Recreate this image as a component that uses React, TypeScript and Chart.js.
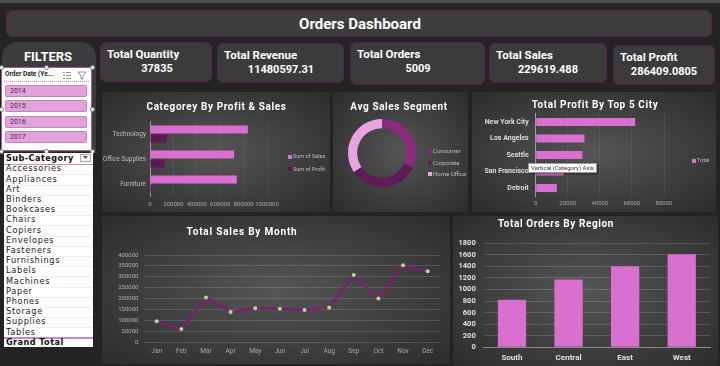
import React, { useEffect, useRef } from "react";
import { Chart, registerables } from "chart.js";
Chart.register(...registerables);

// ---------- DATA ----------
const categoryLabels = ["Technology", "Office Supplies", "Furniture"];
const categorySales = [836154, 719047, 741999];
const categoryProfit = [145455, 122491, 18451];
const categorySeries = ["Sum of Sales", "Sum of Profit"];
const categoryTicks = [0, 200000, 400000, 600000, 800000, 1000000];

const segmentLabels = ["Consumer", "Corporate", "Home Office"];
const segmentAvgSales = [223.73, 233.82, 240.97];

const cityLabels = ["New York City", "Los Angeles", "Seattle", "San Francisco", "Detroit"];
const cityProfit = [62037, 30441, 29156, 17507, 13181];
const citySeries = ["Total"];

const monthLabels = ["Jan", "Feb", "Mar", "Apr", "May", "Jun", "Jul", "Aug", "Sep", "Oct", "Nov", "Dec"];
const monthSales = [94925, 59751, 205005, 137762, 155029, 152718, 147238, 159044, 307650, 200323, 352461, 325294];

const regionLabels = ["South", "Central", "East", "West"];
const regionOrders = [822, 1175, 1401, 1611];

const yearLabels = ["2014", "2015", "2016", "2017"];
const subCategories = ["Accessories", "Appliances", "Art", "Binders", "Bookcases", "Chairs", "Copiers", "Envelopes", "Fasteners", "Furnishings", "Labels", "Machines", "Paper", "Phones", "Storage", "Supplies", "Tables"];

const kpiLabels = ["Total Quantity", "Total Revenue", "Total Orders", "Total Sales", "Total Profit"];
const kpiValues = ["37835", "11480597.31", "5009", "229619.488", "286409.0805"];

const dashboardTitle = "Orders Dashboard";
const chartTitles = ["Categorey By Profit & Sales", "Avg Sales Segment", "Total Profit By Top 5 City", "Total Sales By Month", "Total Orders By Region"];

// ---------- STYLE ----------
const PINK = "#d970d0";
const DARKPURPLE = "#5c1a52";
const segColors = ["#8c2a81", "#5e1b56", "#e7a4e0"];
const FONT = "Roboto, 'Noto Sans', sans-serif";

const kpiBoxes = [
  { x: 100, y: 42, w: 112, h: 40, lx: 107, vx: 157 },
  { x: 217, y: 43, w: 127, h: 40, lx: 224, vx: 281 },
  { x: 350, y: 42, w: 135, h: 43, lx: 357, vx: 418 },
  { x: 489, y: 43, w: 118, h: 40, lx: 496, vx: 548 },
  { x: 613, y: 45, w: 102, h: 40, lx: 620, vx: 664 },
];

const plain = (v: any) => String(v);

function ChartBox({ x, y, w, h, make }: { x: number; y: number; w: number; h: number; make: () => any }) {
  const ref = useRef<HTMLCanvasElement>(null);
  useEffect(() => {
    const c = new Chart(ref.current as HTMLCanvasElement, make());
    return () => c.destroy();
  }, []);
  return (
    <canvas
      ref={ref}
      width={w}
      height={h}
      style={{ position: "absolute", left: x, top: y, width: w, height: h }}
    />
  );
}

function Txt({ x, y, size, children, color = "#fff", weight = 700, align = "left", w = 200, family = FONT, ls = 0 }: any) {
  let left = x;
  if (align === "center") left = x - w / 2;
  if (align === "right") left = x - w;
  return (
    <div
      style={{
        position: "absolute",
        left,
        top: y - size * 0.6,
        width: w,
        height: size * 1.2,
        lineHeight: `${size * 1.2}px`,
        fontSize: size,
        fontFamily: family,
        fontWeight: weight,
        color,
        textAlign: align,
        whiteSpace: "nowrap",
        letterSpacing: ls,
      }}
    >
      {children}
    </div>
  );
}

const panelBg = "radial-gradient(ellipse at center, #555555 0%, #3e3e3e 55%, #2c2c2c 100%)";

function Panel({ x, y, w, h }: any) {
  return <div style={{ position: "absolute", left: x, top: y, width: w, height: h, background: panelBg }} />;
}

function LegendItem({ x, y, color, label, size = 5.5 }: any) {
  return (
    <>
      <div style={{ position: "absolute", left: x, top: y - 2, width: 4, height: 4, background: color }} />
      <Txt x={x + 5} y={y} size={size} color="#bdbdbd" weight={400} w={60}>{label}</Txt>
    </>
  );
}

const base = (pad: any) => ({
  responsive: false,
  animation: false,
  devicePixelRatio: 1,
  layout: { padding: pad },
  plugins: { legend: { display: false }, tooltip: { enabled: false }, title: { display: false } },
});

function makeCategory() {
  return {
    type: "bar",
    data: {
      labels: categoryLabels,
      datasets: [
        { label: categorySeries[0], data: categorySales, backgroundColor: PINK, categoryPercentage: 0.72, barPercentage: 0.9 },
        { label: categorySeries[1], data: categoryProfit, backgroundColor: DARKPURPLE, categoryPercentage: 0.72, barPercentage: 0.9 },
      ],
    },
    options: {
      ...base({ left: 0, top: 29.5, right: 63, bottom: 1.5 }),
      indexAxis: "y",
      scales: {
        x: {
          min: categoryTicks[0],
          max: categoryTicks[categoryTicks.length - 1],
          afterBuildTicks: (a: any) => { a.ticks = categoryTicks.map((v) => ({ value: v })); },
          ticks: { color: "#a8a8a8", font: { size: 6, family: FONT }, padding: 4, maxRotation: 0, autoSkip: false, callback: plain },
          grid: { color: "rgba(255,255,255,0.13)", drawTicks: false },
          border: { display: false, dash: [2, 2] },
          afterFit: (a: any) => { a.height = 14; },
        },
        y: {
          ticks: { color: "#bdbdbd", font: { size: 6.5, family: FONT }, padding: 4 },
          grid: { display: false, drawTicks: false },
          border: { color: "#9a9a9a" },
          afterFit: (a: any) => { a.width = 48; },
        },
      },
    },
  };
}

function makeDonut() {
  return {
    type: "doughnut",
    data: { labels: segmentLabels, datasets: [{ data: segmentAvgSales, backgroundColor: segColors, borderWidth: 0 }] },
    options: { ...base({ left: 15, top: 27, right: 52, bottom: 25 }), cutout: "73%" },
  };
}

function makeCity() {
  return {
    type: "bar",
    data: { labels: cityLabels, datasets: [{ label: citySeries[0], data: cityProfit, backgroundColor: PINK, categoryPercentage: 0.55, barPercentage: 0.9 }] },
    options: {
      ...base({ left: 0, top: 21.75, right: 52, bottom: 1.75 }),
      indexAxis: "y",
      scales: {
        x: {
          min: 0,
          max: 80000,
          ticks: { stepSize: 20000, color: "#a8a8a8", font: { size: 6, family: FONT }, padding: 4, maxRotation: 0, autoSkip: false, callback: plain },
          grid: { color: "rgba(255,255,255,0.13)", drawTicks: false },
          border: { display: false, dash: [2, 2] },
          afterFit: (a: any) => { a.height = 14; },
        },
        y: {
          ticks: { color: "#dedede", font: { size: 7, weight: "bold", family: FONT }, padding: 7, autoSkip: false },
          grid: { display: false, drawTicks: false },
          border: { color: "#9a9a9a" },
          afterFit: (a: any) => { a.width = 63.7; },
        },
      },
    },
  };
}

function makeMonth() {
  return {
    type: "line",
    data: {
      labels: monthLabels,
      datasets: [
        {
          data: monthSales,
          borderColor: "#7b1f71",
          borderWidth: 2.5,
          pointBackgroundColor: "#a8e38c",
          pointBorderColor: "#a8e38c",
          pointBorderWidth: 0,
          pointRadius: 2,
          pointHoverRadius: 2,
          tension: 0,
        },
      ],
    },
    options: {
      ...base({ left: 0, top: 39, right: 10, bottom: 8 }),
      scales: {
        x: {
          offset: true,
          ticks: { color: "#a8a8a8", font: { size: 6.5, family: FONT }, padding: 5, maxRotation: 0, autoSkip: false },
          grid: { display: false, drawTicks: false },
          border: { display: false },
          afterFit: (a: any) => { a.height = 14; },
        },
        y: {
          min: 0,
          max: 400000,
          ticks: { stepSize: 50000, color: "#b0b0b0", font: { size: 6, family: FONT }, padding: 6, autoSkip: false, callback: plain },
          grid: { color: "rgba(255,255,255,0.14)", drawTicks: false },
          border: { display: false },
          afterFit: (a: any) => { a.width = 42.4; },
        },
      },
    },
  };
}

function makeRegion() {
  return {
    type: "bar",
    data: { labels: regionLabels, datasets: [{ data: regionOrders, backgroundColor: PINK, categoryPercentage: 0.5, barPercentage: 1 }] },
    options: {
      ...base({ left: 0, top: 27.3, right: 8, bottom: 2.7 }),
      scales: {
        x: {
          ticks: { color: "#e0e0e0", font: { size: 8, weight: "bold", family: FONT }, padding: 6, autoSkip: false },
          grid: { display: false, drawTicks: false },
          border: { color: "#8a8a8a" },
          afterFit: (a: any) => { a.height = 16; },
        },
        y: {
          min: 0,
          max: 1800,
          ticks: { stepSize: 200, color: "#e0e0e0", font: { size: 7.5, weight: "bold", family: FONT }, padding: 8, autoSkip: false, callback: plain },
          grid: { color: "rgba(255,255,255,0.16)", drawTicks: false },
          border: { display: false },
          afterFit: (a: any) => { a.width = 30.7; },
        },
      },
    },
  };
}

function Handle({ x, y }: any) {
  return (
    <div
      style={{
        position: "absolute",
        left: x - 2.5,
        top: y - 2.5,
        width: 5,
        height: 5,
        borderRadius: 3,
        background: "#fff",
        border: "1px solid #777",
        boxSizing: "border-box",
      }}
    />
  );
}

export default function App() {
  return (
    <div style={{ position: "fixed", left: 0, top: 0, width: 720, height: 366, background: "#232323", overflow: "hidden", fontFamily: FONT }}>
      <div style={{ position: "absolute", left: 0, top: 0, width: 720, height: 3, background: "#4e4e4e" }} />

      {/* Title bar */}
      <div style={{ position: "absolute", left: 6, top: 10, width: 706, height: 27, background: "#3d3d3d", border: "1px solid #5a1e55", borderRadius: 6, boxSizing: "border-box" }} />
      <Txt x={360} y={23.5} size={15} align="center" w={300}>{dashboardTitle}</Txt>

      {/* KPI cards */}
      {kpiLabels.map((l, i) => {
        const b = kpiBoxes[i];
        return (
          <React.Fragment key={l}>
            <div style={{ position: "absolute", left: b.x, top: b.y, width: b.w, height: b.h, background: "#3b3b3b", border: "1px solid #5a1e55", borderRadius: 6, boxSizing: "border-box" }} />
            <Txt x={b.lx} y={b.y + 13} size={11.5} w={110}>{l}</Txt>
            <Txt x={b.vx} y={b.y + 27} size={11} align="center" w={110}>{kpiValues[i]}</Txt>
          </React.Fragment>
        );
      })}

      {/* Filters panel */}
      <div style={{ position: "absolute", left: 2, top: 42, width: 94, height: 110, background: "#3c3c3c", borderRadius: "15px 15px 0 0" }} />
      <Txt x={48} y={57} size={13} align="center" w={90}>FILTERS</Txt>

      {/* Year slicer */}
      <div style={{ position: "absolute", left: 1, top: 67, width: 91, height: 84, background: "#ffffff", border: "1px solid #a35a9c", boxSizing: "border-box" }} />
      <Txt x={5} y={75} size={6.5} color="#222" w={60}>Order Date (Ye...</Txt>
      <svg style={{ position: "absolute", left: 62, top: 71 }} width={26} height={9}>
        <g stroke="#777" strokeWidth={0.8} fill="none">
          <line x1={1} y1={1.5} x2={3} y2={1.5} /><line x1={4} y1={1.5} x2={9} y2={1.5} />
          <line x1={1} y1={4.5} x2={3} y2={4.5} /><line x1={4} y1={4.5} x2={9} y2={4.5} />
          <line x1={1} y1={7.5} x2={3} y2={7.5} /><line x1={4} y1={7.5} x2={9} y2={7.5} />
          <path d="M16 1 L24 1 L21 5 L21 8 L19 8 L19 5 Z" />
        </g>
      </svg>
      <div style={{ position: "absolute", left: 4, top: 81, width: 85, height: 0, borderTop: "1px dotted #c98ac3" }} />
      {yearLabels.map((yl, i) => (
        <React.Fragment key={yl}>
          <div style={{ position: "absolute", left: 5, top: 85 + i * 15.4, width: 82, height: 12, background: "#e3a2dc", border: "1px solid #c47fbd", borderRadius: 1.5, boxSizing: "border-box" }} />
          <Txt x={10} y={91 + i * 15.4} size={7} color="#333" weight={400} w={40}>{yl}</Txt>
        </React.Fragment>
      ))}
      <Handle x={1} y={67} /><Handle x={46} y={67} /><Handle x={92} y={67} />
      <Handle x={1} y={109} /><Handle x={92} y={109} />
      <Handle x={1} y={151} /><Handle x={46} y={151} /><Handle x={92} y={151} />

      {/* Sub-category pivot */}
      <div style={{ position: "absolute", left: 4, top: 153, width: 89, height: 194, background: "#ffffff" }} />
      <Txt x={6} y={159} size={8.2} color="#111" family="'DejaVu Sans', sans-serif" w={80} ls={0.4}>Sub-Category</Txt>
      <div style={{ position: "absolute", left: 80, top: 154, width: 11, height: 8, border: "1px solid #aaa", boxSizing: "border-box", background: "#f4f4f4" }} />
      <svg style={{ position: "absolute", left: 83, top: 156 }} width={6} height={4}><path d="M0 0 L5 0 L2.5 3 Z" fill="#555" /></svg>
      <div style={{ position: "absolute", left: 4, top: 164, width: 89, height: 0, borderTop: "1px solid #c98ac3" }} />
      {subCategories.map((s, i) => (
        <React.Fragment key={s}>
          <Txt x={6} y={169.3 + i * 10.2} size={8.2} color="#1a1a1a" weight={400} family="'DejaVu Sans', sans-serif" w={85} ls={0.7}>{s}</Txt>
          <div style={{ position: "absolute", left: 4, top: 174.4 + i * 10.2, width: 89, height: 0, borderTop: "1px dotted #eadcea" }} />
        </React.Fragment>
      ))}
      <div style={{ position: "absolute", left: 4, top: 337, width: 89, height: 1, borderTop: "2px double #c98ac3" }} />
      <Txt x={6} y={342.7} size={8.2} color="#111" family="'DejaVu Sans', sans-serif" w={85} ls={0.4}>Grand Total</Txt>

      {/* Chart panels */}
      <Panel x={102} y={92} w={228} h={120} />
      <Panel x={333} y={92} w={135} h={120} />
      <Panel x={472} y={92} w={244} h={120} />
      <Panel x={102} y={216} w={348} h={148} />
      <Panel x={453} y={216} w={265} h={150} />

      <ChartBox x={102} y={92} w={228} h={120} make={makeCategory} />
      <ChartBox x={333} y={92} w={135} h={120} make={makeDonut} />
      <ChartBox x={472} y={92} w={244} h={120} make={makeCity} />
      <ChartBox x={102} y={216} w={348} h={148} make={makeMonth} />
      <ChartBox x={453} y={216} w={265} h={150} make={makeRegion} />

      {/* Chart titles */}
      <Txt x={216.5} y={106.5} size={10} align="center" w={200} ls={0.6}>{chartTitles[0]}</Txt>
      <Txt x={399} y={106.5} size={10} align="center" w={130} ls={0.6}>{chartTitles[1]}</Txt>
      <Txt x={595} y={105} size={10} align="center" w={200} ls={0.6}>{chartTitles[2]}</Txt>
      <Txt x={242} y={231.5} size={10} align="center" w={200} ls={0.8}>{chartTitles[3]}</Txt>
      <Txt x={556} y={223.5} size={10} align="center" w={200} ls={0.6}>{chartTitles[4]}</Txt>

      {/* Legends */}
      <LegendItem x={288} y={156.7} color={PINK} label={categorySeries[0]} />
      <LegendItem x={288} y={169} color={DARKPURPLE} label={categorySeries[1]} />
      {segmentLabels.map((s, i) => (
        <LegendItem key={s} x={428} y={151 + i * 11.5} color={segColors[i]} label={s} size={6} />
      ))}
      <LegendItem x={692} y={160.7} color={PINK} label={citySeries[0]} />

      {/* Excel axis tooltip */}
      <div style={{ position: "absolute", left: 528, top: 163, width: 69, height: 10, background: "#ffffff", border: "1px solid #9a9a9a", boxSizing: "border-box", boxShadow: "1px 1px 2px rgba(0,0,0,0.5)" }} />
      <Txt x={562.5} y={168} size={6} color="#333" weight={400} align="center" w={69}>Vertical (Category) Axis</Txt>
    </div>
  );
}
